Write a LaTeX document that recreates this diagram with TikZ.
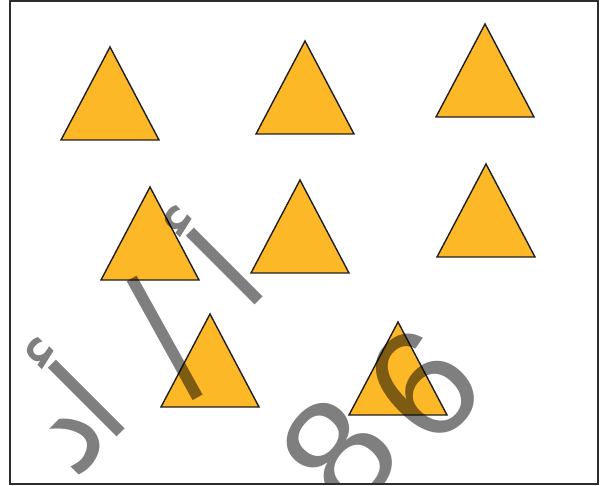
\documentclass[tikz,border=0pt]{standalone}
\usepackage{fontspec}
\newfontfamily\arabicfont[Script=Arabic]{DejaVu Sans}
\newfontfamily\wmdigitfont{Liberation Sans}
\TeXXeTstate=1
\definecolor{triorange}{RGB}{253,184,39}
\definecolor{framegray}{RGB}{45,45,45}
\begin{document}
\begin{tikzpicture}[x=1bp,y=-1bp,
  trist/.style={fill=triorange,draw=black!88,line width=1.4bp,line join=miter},
  wm/.style={text=black,opacity=0.5,inner sep=0pt,outer sep=0pt},
  wmar/.style={wm,font=\arabicfont\fontsize{128bp}{128bp}\selectfont},
  wmdig/.style={wm,font=\wmdigitfont\fontsize{155bp}{155bp}\selectfont},
  tri/.pic={\draw[trist] (-49,93) -- (0,0) -- (49,93) -- cycle;}]
\useasboundingbox (0,0) rectangle (601,486);
\fill[white] (0,0) rectangle (601,486);
% triangles
\pic (t1) at (110,47) {tri};
\pic (t2) at (305,41) {tri};
\pic (t3) at (485,24) {tri};
\pic (t4) at (150,187) {tri};
\pic (t5) at (300,180) {tri};
\pic (t6) at (486,164) {tri};
\pic (t7) at (210,314) {tri};
\pic (t8) at (398,322) {tri};
% watermark
\begin{scope}
\clip (10,1.5) rectangle (598,483.5);
\node[wmar,rotate=45] (wa) at (214,256) {\beginR أ\endR};
\node[wmar,rotate=29,yscale=1.4] (wb) at (165,338) {\beginR ا\endR};
\node[wmar,rotate=45] (wc) at (76,388) {\beginR أ\endR};
\node[wmar,rotate=45] (wd) at (76,442) {\beginR د\endR};
\node[wmdig,rotate=50] (w8) at (339,453) {8};
\node[wmdig,rotate=45] (w6) at (423,385) {6};
\end{scope}
\draw[framegray,line width=2bp] (10,1.5) rectangle (598,483.5);
\end{tikzpicture}
\end{document}
